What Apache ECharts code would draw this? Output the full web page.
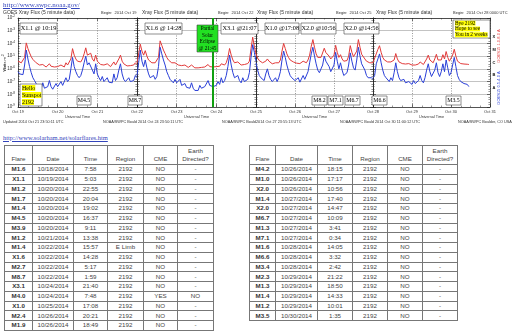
<!DOCTYPE html>
<html><head><meta charset="utf-8">
<script src="https://cdn.jsdelivr.net/npm/echarts@6/dist/echarts.min.js"></script>
<style>
html,body{margin:0;padding:0;background:#fff;width:512px;height:334px;overflow:hidden;position:relative}
#chart{position:absolute;left:0;top:0;width:512px;height:130px}
a.lnk{position:absolute;font-family:"Liberation Serif","DejaVu Serif",serif;color:#3344bb;text-decoration:underline;white-space:nowrap;line-height:9px;z-index:5}
table{position:absolute;top:145px;border-collapse:collapse;font-family:"Liberation Sans",Arial,sans-serif;font-size:6.2px;color:#444;table-layout:fixed}
td,th{border:1px solid #777;padding:0;text-align:center;vertical-align:middle;overflow:hidden;white-space:nowrap;line-height:8px}
th{font-weight:normal;vertical-align:bottom;padding-bottom:1px}
td.f{font-weight:bold;color:#333}
tr.h{height:19px}
tr.r{height:9.75px}
</style></head>
<body>
<div id="chart"></div>
<a class="lnk" style="left:3px;top:0.5px;font-size:7px">http://www.swpc.noaa.gov/</a>
<a class="lnk" style="left:3px;top:132.5px;font-size:6.5px">http://www.solarham.net/solarflares.htm</a>
<script>
// ---------- DATA ----------
const DAY_LABELS = [
  ['Oct 19','Oct 20','Oct 21','Oct 22'],
  ['Oct 22','Oct 23','Oct 24','Oct 25'],
  ['Oct 25','Oct 26','Oct 27','Oct 28'],
  ['Oct 28','Oct 29','Oct 30','Oct 31']
];
// hourly flux (W/m^2); index = hours since panel start
const red1 = [4e-6,3.5e-6,3e-6,3e-6,8e-6,1.1e-4,4e-5,1.8e-5,9e-6,5.5e-6,4e-6,3e-6,2.4e-6,2e-6,1.7e-6,2.2e-6,1.6e-6,1.4e-6,1.5e-6,2.5e-6,1.6e-6,1.3e-6,1.4e-6,1.8e-6,
 1.5e-6,1.3e-6,2e-6,1.5e-6,1.4e-6,3e-6,2e-6,2.5e-6,6e-6,3.9e-5,1.2e-5,6e-6,4e-6,3e-6,3.5e-6,6e-6,1.5e-5,4.5e-5,1.2e-5,1.4e-5,1.7e-5,6e-6,4e-6,1.2e-5,
 4e-6,2.8e-6,2.2e-6,3e-6,2e-6,1.7e-6,2.5e-6,1.8e-6,1.5e-6,1.6e-6,3.5e-6,2e-6,2.5e-6,6e-6,1.2e-5,4e-6,2.5e-6,2e-6,1.7e-6,2.4e-6,1.8e-6,1.5e-6,2e-6,3e-6,2.2e-6];
const blue1 = [6e-7,4e-7,3e-7,3.5e-7,2e-6,3e-5,6e-6,1.5e-6,5e-7,2e-7,1.2e-7,7e-8,4e-8,3e-8,2.5e-8,8e-8,3e-8,2.5e-8,4e-8,1.2e-7,4e-8,2.5e-8,3.5e-8,7e-8,
 4e-8,3e-8,1e-7,5e-8,3.5e-8,2e-7,1e-7,1.5e-7,1e-6,8e-6,1.5e-6,6e-7,3e-7,2e-7,3e-7,8e-7,3e-6,1e-5,2e-6,3e-6,4e-6,8e-7,4e-7,2.5e-6,
 4e-7,2e-7,1.2e-7,2.5e-7,1e-7,8e-8,2e-7,9e-8,7e-8,8e-8,4e-7,1.2e-7,2e-7,8e-7,2.5e-6,4e-7,1.5e-7,1e-7,8e-8,2e-7,1e-7,7e-8,1.2e-7,3e-7,2e-7];
const red2 = [3e-6,1.5e-5,8.7e-5,2.5e-5,1.2e-5,2.7e-5,1e-5,5e-6,3.5e-6,3e-6,4e-6,3e-6,3.5e-6,8e-6,1.6e-4,7e-5,3e-5,1.6e-5,8e-6,5e-6,3.5e-6,3e-6,2.5e-6,3e-6,
 2.2e-6,2e-6,2.8e-6,1.8e-6,1.6e-6,2e-6,1.5e-6,1.3e-6,1.4e-6,2e-6,1.4e-6,1.2e-6,1.3e-6,1.2e-6,1.6e-6,1.3e-6,1.2e-6,1.4e-6,1.3e-6,2.2e-6,1.5e-6,1.3e-6,1.4e-6,1.3e-6,
 1.5e-6,2e-6,1.6e-6,2.5e-6,1.8e-6,2e-6,3e-6,8e-6,4e-5,1.2e-5,5e-6,3e-6,2.5e-6,3.5e-6,2.5e-6,2e-6,2.8e-6,2.2e-6,2e-6,2.6e-6,4e-6,4e-5,3.1e-4,6e-5,1.5e-5];
const blue2 = [3e-7,3e-6,3e-5,4e-6,1.5e-6,5e-6,1.2e-6,4e-7,2e-7,1.5e-7,3e-7,1.5e-7,2.5e-7,1.5e-6,5e-5,1.5e-5,5e-6,2e-6,6e-7,3e-7,1.5e-7,1.2e-7,8e-8,1.5e-7,
 8e-8,6e-8,1.5e-7,5e-8,4e-8,7e-8,3.5e-8,2.5e-8,3e-8,8e-8,3e-8,2e-8,2.5e-8,2e-8,5e-8,3e-8,2.5e-8,4e-8,3e-8,1.2e-7,5e-8,3.5e-8,4e-8,3e-8,
 5e-8,1e-7,6e-8,2e-7,8e-8,1.2e-7,3e-7,1.5e-6,1.2e-5,2e-6,5e-7,2e-7,1.5e-7,3e-7,1.2e-7,8e-8,2e-7,1e-7,8e-8,1.5e-7,5e-7,8e-6,8e-5,2e-5,4e-6];
const red3 = [1.5e-5,7e-6,4.5e-6,3.5e-6,3e-6,2.8e-6,4e-6,6e-6,4e-6,3e-6,2.5e-6,2.4e-6,3e-6,2.5e-6,3e-6,5e-6,2.5e-5,1e-4,4e-5,1.5e-5,8e-6,5e-6,4e-6,3.5e-6,
 3e-6,2.8e-6,3.5e-6,2.6e-6,2.5e-6,4e-6,3e-6,3e-6,5e-6,1.2e-5,6e-5,2e-4,5e-5,1.5e-5,8e-6,6e-6,8e-6,1e-5,4.2e-5,1.9e-5,2.4e-5,1e-5,6e-6,5e-6,
 1.2e-5,7.1e-5,2e-5,8e-6,1.3e-5,6e-6,4e-6,3.5e-6,4.5e-6,1e-5,6.7e-5,2e-5,9e-6,7e-6,2.5e-5,2e-4,5e-5,1.4e-5,1.4e-5,6e-6,4e-6,3.5e-6,3e-6,3.2e-6,3e-6];
const blue3 = [3e-6,8e-7,3e-7,2e-7,1.5e-7,1.2e-7,4e-7,1e-6,3e-7,1.5e-7,1e-7,8e-8,2e-7,1e-7,2e-7,6e-7,5e-6,2.5e-5,8e-6,2e-6,7e-7,3e-7,2e-7,1.5e-7,
 1.2e-7,1e-7,2e-7,9e-8,8e-8,3e-7,1.5e-7,1.5e-7,6e-7,3e-6,1.5e-5,5e-5,1e-5,2.5e-6,8e-7,5e-7,1e-6,2e-6,1e-5,4e-6,5e-6,1.5e-6,6e-7,5e-7,
 2e-6,2e-5,4e-6,1e-6,3e-6,8e-7,3e-7,2.5e-7,5e-7,2e-6,1.8e-5,4e-6,1.2e-6,8e-7,5e-6,5e-5,1e-5,2.5e-6,3e-6,8e-7,3e-7,2e-7,1.5e-7,2e-7,1.5e-7];
const red4 = [3e-6,3.5e-6,1.5e-5,3.4e-5,6.6e-5,2e-5,8e-6,5e-6,4e-6,3.5e-6,3e-6,3.5e-6,3e-6,5e-6,1.6e-5,6e-6,3.5e-6,3e-6,2.6e-6,3e-6,2.4e-6,2.2e-6,2.6e-6,2.2e-6,
 2e-6,2.5e-6,2e-6,1.8e-6,2.4e-6,3.5e-6,2.5e-6,2.2e-6,3e-6,6e-6,1.2e-5,5e-6,3.5e-6,3e-6,6e-6,1.4e-5,5e-6,3.5e-6,5e-6,1.3e-5,6e-6,2.3e-5,8e-6,4e-6,
 5e-6,1.2e-5,3.5e-5,1e-5,4e-6,3e-6,2.6e-6,3e-6,2.4e-6,2.2e-6,2.3e-6,2.2e-6];
const blue4 = [2e-7,3e-7,2.5e-6,6e-6,1.5e-5,3e-6,8e-7,3e-7,2e-7,1.5e-7,1e-7,2e-7,1.2e-7,5e-7,3e-6,6e-7,2e-7,1.2e-7,9e-8,1.5e-7,8e-8,6e-8,1e-7,7e-8,
 6e-8,1.2e-7,7e-8,5e-8,1.2e-7,3e-7,1.2e-7,8e-8,2e-7,8e-7,2.5e-6,6e-7,2.5e-7,2e-7,8e-7,3e-6,5e-7,2.5e-7,6e-7,2.5e-6,6e-7,5e-6,1.2e-6,3e-7,
 5e-7,2e-6,8e-6,1.5e-6,3e-7,1.5e-7,1e-7,1.2e-7,7e-8,5e-8,6e-8,4e-8];
const ECLIPSE_HOUR = 45.75; // Oct 23 21:45 UTC, hours after panel-2 start

// table columns
const HEAD = ['Flare','Date','Time','Region','CME','Earth<br>Directed?'];
const flareL = ['M1.6','X1.1','M1.2','M1.7','M1.4','M4.5','M3.9','M1.2','M1.4','X1.6','M2.7','M8.7','X3.1','M4.0','X1.0','M2.4','M1.9'];
const dateL = ['10/18/2014','10/19/2014','10/20/2014','10/20/2014','10/20/2014','10/20/2014','10/20/2014','10/21/2014','10/22/2014','10/22/2014','10/22/2014','10/22/2014','10/24/2014','10/24/2014','10/25/2014','10/26/2014','10/26/2014'];
const timeL = ['7:58','5:03','22:55','20:04','19:02','16:37','9:11','13:38','15:57','14:28','5:17','1:59','21:40','7:48','17:08','20:21','18:49'];
const regionL = ['2192','2192','2192','2192','2192','2192','2192','2192','E Limb','2192','2192','2192','2192','2192','2192','2192','2192'];
const cmeL = ['NO','NO','NO','NO','NO','NO','NO','NO','NO','NO','NO','NO','NO','YES','NO','NO','NO'];
const earthL = ['-','-','-','-','-','-','-','-','-','-','-','-','-','NO','-','-','-'];
const flareR = ['M4.2','M1.0','X2.0','M1.4','X2.0','M6.7','M1.3','M7.1','M1.6','M6.6','M3.4','M2.3','M1.3','M1.4','M1.2','M3.5'];
const dateR = ['10/26/2014','10/26/2014','10/26/2014','10/27/2014','10/27/2014','10/27/2014','10/27/2014','10/27/2014','10/28/2014','10/28/2014','10/28/2014','10/29/2014','10/29/2014','10/29/2014','10/29/2014','10/30/2014'];
const timeR = ['18:15','17:17','10:56','17:40','14:47','10:09','3:41','0:34','14:05','3:32','2:42','21:22','18:50','14:33','10:01','1:35'];
const regionR = ['2192','2192','2192','2192','2192','2192','2192','2192','2192','2192','2192','2192','2192','2192','2192','2192'];
const cmeR = ['NO','NO','NO','NO','NO','NO','NO','NO','NO','NO','NO','NO','NO','NO','NO','NO'];
const earthR = ['-','-','-','-','-','-','-','-','-','-','-','-','-','-','-','-'];

// ---------- TABLES ----------
function buildTable(left, widths, cols){
  const t = document.createElement('table');
  t.style.left = left + 'px';
  t.style.width = widths.reduce((a,b)=>a+b,0) + 'px';
  let h = '<colgroup>' + widths.map(w=>'<col style="width:'+w+'px">').join('') + '</colgroup>';
  h += '<tr class="h">' + HEAD.map(x=>'<th>'+x+'</th>').join('') + '</tr>';
  for (let i=0;i<cols[0].length;i++){
    h += '<tr class="r">' + cols.map((c,j)=>'<td'+(j===0?' class="f"':'')+'>'+c[i]+'</td>').join('') + '</tr>';
  }
  t.innerHTML = h;
  document.body.appendChild(t);
}
buildTable(4, [28,41,34,36,34,36], [flareL,dateL,timeL,regionL,cmeL,earthL]);
buildTable(249,[26,42,35,35,35,35], [flareR,dateR,timeR,regionR,cmeR,earthR]);

// ---------- CHART ----------
const SANS = '"Liberation Sans", Arial, sans-serif';
const SERIF = '"Liberation Serif", "Times New Roman", serif';
const PANELS = [{left:18,width:119},{left:137,width:119},{left:256,width:117},{left:373,width:117}];
const RED = '#e23a3a', BLUE = '#2a3fd8';
const chart = echarts.init(document.getElementById('chart'));
const grids=[], xAxes=[], yAxes=[], series=[];
const axLine = {show:true, lineStyle:{color:'#222', width:0.7}};
const tick = {show:true, inside:true, length:3, lineStyle:{color:'#222', width:0.6}};
const minor = {show:true, splitNumber:5, length:1.6, lineStyle:{color:'#333', width:0.5}};
const DATA = [[red1,blue1],[red2,blue2],[red3,blue3],[red4,blue4]];
const toPts = arr => arr.map((v,h)=>[h,v]);
PANELS.forEach((p,i)=>{
  grids.push({left:p.left, top:18, width:p.width, height:89, containLabel:false, outerBoundsMode:'none'});
  xAxes.push({type:'value', gridIndex:i, min:0, max:72, interval:24, position:'bottom',
    axisLine:axLine, axisTick:tick, minorTick:{show:true, splitNumber:4, length:1.5, lineStyle:{color:'#333',width:0.5}},
    axisLabel:{show:true, fontSize:4, fontFamily:SANS, color:'#333', margin:3, showMinLabel:true, showMaxLabel:i===3,
      formatter:v=>DAY_LABELS[i][Math.round(v/24)]},
    splitLine:{show:true, lineStyle:{color:'#555', width:0.6, type:[1,1.5]}}});
  xAxes.push({type:'value', gridIndex:i, min:0, max:72, interval:24, position:'top',
    axisLine:axLine, axisTick:tick, minorTick:{show:true, splitNumber:4, length:1.5, lineStyle:{color:'#333',width:0.5}},
    axisLabel:{show:false}, splitLine:{show:false}});
  yAxes.push({type:'log', logBase:10, gridIndex:i, min:1e-9, max:1e-2, position:'left',
    axisLine:axLine, axisTick:tick,
    axisLabel:{show:i===0, margin:3, color:'#333',
      formatter:v=>'{b|10}{s|'+Math.round(Math.log10(v))+'}',
      rich:{b:{fontSize:4.5, fontFamily:SANS, color:'#333'}, s:{fontSize:3.2, fontFamily:SANS, color:'#333', padding:[0,0,3,0]}}},
    splitLine:{show:true, lineStyle:{color:'#9a9a9a', width:0.6}}});
  yAxes.push({type:'value', gridIndex:i, min:-9, max:-2, interval:1, position:'left',
    axisLine:{show:false}, axisTick:{show:false, inside:true}, minorTick:minor, axisLabel:{show:false}, splitLine:{show:false}});
  yAxes.push({type:'value', gridIndex:i, min:-9, max:-2, interval:1, position:'right',
    axisLine:axLine, axisTick:tick, minorTick:minor, axisLabel:{show:false}, splitLine:{show:false}});
  const [r,b] = DATA[i];
  series.push({type:'line', xAxisIndex:2*i, yAxisIndex:3*i, data:toPts(r), symbol:'none', showSymbol:false,
    lineStyle:{color:RED, width:1}, silent:true, z:3});
  const bs = {type:'line', xAxisIndex:2*i, yAxisIndex:3*i, data:toPts(b), symbol:'none', showSymbol:false,
    lineStyle:{color:BLUE, width:1}, silent:true, z:3};
  if (i===1) bs.markLine = {symbol:'none', silent:true, label:{show:false},
    lineStyle:{color:'#10a010', width:2, type:'solid'}, data:[{xAxis:ECLIPSE_HOUR}]};
  series.push(bs);
});
chart.setOption({animation:false, backgroundColor:'#fff', grid:grids, xAxis:xAxes, yAxis:yAxes, series});

// ---------- ANNOTATIONS ----------
const G = [];
function txt(x,y,text,style,el){
  G.push(Object.assign({type:'text', x, y, z:50, silent:true,
    style:Object.assign({text, fill:'#333', fontSize:4, fontFamily:SANS, align:'left', verticalAlign:'middle'}, style||{})}, el||{}));
}
function box(x,y,w,h,text,fs,fill,lh){
  G.push({type:'rect', z:60, silent:true, shape:{x,y,width:w,height:h}, style:{fill:fill||'#fff', stroke:'#444', lineWidth:0.6}});
  G.push({type:'text', z:61, silent:true, x:x+w/2, y:y+h/2, style:{text, fill:'#000', fontSize:fs, fontFamily:SERIF, align:'center', verticalAlign:'middle', lineHeight:lh||fs+1}});
}
function note(x,y,w,h,lines,fs,lh){
  G.push({type:'rect', z:60, silent:true, shape:{x,y,width:w,height:h}, style:{fill:'#fff', stroke:'#444', lineWidth:0.6}});
  G.push({type:'text', z:61, silent:true, x:x+2, y:y+h/2, style:{text:lines.map(l=>'{y|'+l+'}').join('\n'), fill:'#000', align:'left', verticalAlign:'middle',
    rich:{y:{backgroundColor:'#ffff00', fontSize:fs, fontFamily:SERIF, color:'#000', lineHeight:lh}}}});
}
// panel headers
txt(3,13,'GOES Xray Flux (5 minute data)',{fontSize:5});
txt(101,13,'Begin:  2014 Oct 19',{fontSize:4});
txt(142,13,'Xray Flux (5 minute data)',{fontSize:5});
txt(218,13,'Begin:  2014 Oct 22',{fontSize:4});
txt(257,13,'Xray Flux (5 minute data)',{fontSize:5});
txt(336,13,'Begin:  2014 Oct 25',{fontSize:4});
txt(376,13,'Xray Flux (5 minute data)',{fontSize:5});
txt(453,13,'Begin:  2014 Oct 28 0000 UTC',{fontSize:4});
// footers
PANELS.forEach(p=>txt(p.left+p.width/2,117,'Universal Time',{fontSize:3.8, align:'center'}));
txt(3,122,'Updated 2014 Oct 21 23:50:11 UTC',{fontSize:3.8});
txt(103,122,'NOAA/SWPC Bould',{fontSize:3.8});
txt(138,122,'2014 Oct 24 23:50:11 UTC',{fontSize:3.8});
txt(222,122,'NOAA/SWPC Bould',{fontSize:3.8});
txt(256,122,'2014 Oct 27 23:55:13 UTC',{fontSize:3.8});
txt(340,122,'NOAA/SWPC Bould',{fontSize:3.8});
txt(375,122,'2014 Oct 30 11:00:12 UTC',{fontSize:3.8});
txt(458,122,'NOAA/SWPC Boulder, CO USA',{fontSize:3.8});
// y title
G.push({type:'text', x:5, y:63, z:50, silent:true, rotation:Math.PI/2,
  style:{text:'{a|Watts m}{s|-2}', align:'center', verticalAlign:'middle',
    rich:{a:{fontSize:4, fontFamily:SANS, color:'#333'}, s:{fontSize:3, fontFamily:SANS, color:'#333', padding:[0,0,3,0]}}}});
// right side of last panel: class letters & channel names
['X','M','C','B','A'].forEach((c,k)=>{
  const y = chart.convertToPixel({yAxisIndex:9}, Math.pow(10,-3.5-k));
  txt(492.5,y,c,{fontSize:4, fill:'#111', fontWeight:'bold'});
});
G.push({type:'text', x:499, y:46, z:50, silent:true, rotation:Math.PI/2, style:{text:'GOES15 1.0-8.0 A', fill:RED, fontSize:4, fontFamily:SANS, align:'center', verticalAlign:'middle'}});
G.push({type:'text', x:499, y:88, z:50, silent:true, rotation:Math.PI/2, style:{text:'GOES15 0.5-4.0 A', fill:BLUE, fontSize:4, fontFamily:SANS, align:'center', verticalAlign:'middle'}});
// flare annotation boxes
box(20,23,37,11,'X1.1 @ 10:19',6.3);
box(145,23,37,11,'X1.6 @ 14:28',6.3);
box(221,23,37,11,'X3.1 @21:07',6.3);
box(265,23,34,11,'X1.0 @17:08',6.3);
box(301,23,35,11,'X2.0 @10:56',6.3);
box(344,23,35,11,'X2.0 @14:56',6.3);
box(197,25,21,27,'Partial\nSolar\nEclipse\n@ 21:45',5.2,'#22e022',6.5);
note(20,84,22,22,['Hello','Sunspot','2192'],6,7);
note(453,20,37,18,['Bye 2192','Hope to see','You in 2 weeks'],5.3,5.8);
box(77,96,14,9,'M4.5',5.8);
box(128,96,14,9,'M8.7',5.8);
box(312,96,15,9,'M8.2',5.8);
box(328,96,15,9,'M7.1',5.8);
box(345,96,15,9,'M6.7',5.8);
box(372,96,15,9,'M6.6',5.8);
box(446,96,15,9,'M3.5',5.8);
chart.setOption({graphic:G});
</script>
</body></html>
